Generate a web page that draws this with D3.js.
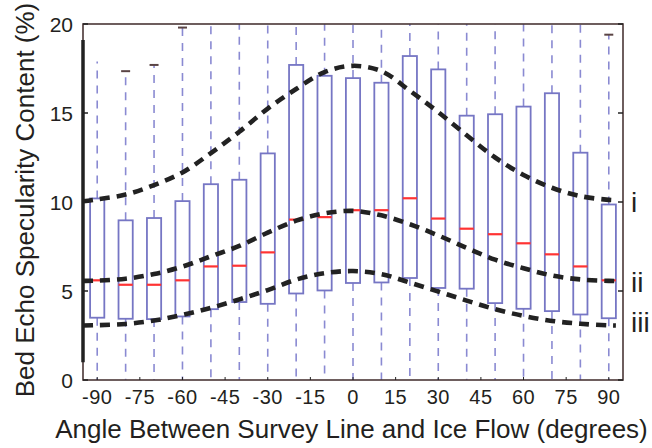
<!DOCTYPE html>
<html><head><meta charset="utf-8">
<script src="https://cdn.jsdelivr.net/npm/d3@7"></script>
<style>
body{margin:0;background:#fff}
text{font-family:"Liberation Sans",Arial,Helvetica,sans-serif;fill:#231f20}
</style>
</head><body>
<svg id="chart" width="652" height="448"></svg>
<script>
// ---- data ----
const angles = [-90,-80,-70,-60,-50,-40,-30,-20,-10,0,10,20,30,40,50,60,70,80,90];
const q1 = [3.5,3.44,3.42,3.57,3.98,4.38,4.28,4.86,5.03,5.45,5.48,5.73,5.17,5.13,4.32,4.0,3.87,3.68,3.47];
const medians = [5.6,5.35,5.35,5.6,6.38,6.42,7.17,9.01,9.15,9.54,9.54,10.21,9.07,8.5,8.19,7.68,7.06,6.38,5.6];
const q3 = [10.2,8.97,9.1,10.05,11.0,11.25,12.73,17.7,17.09,16.96,16.7,18.2,17.45,14.85,14.93,15.36,16.11,12.77,9.86];
const upperWhisker = [17.9,17.35,17.7,19.8,21,21,21,21,21,21,21,21,21,21,21,21,21,21,19.4];
const lowerWhisker = [0,0,0,0,0,0,0,0,0,0,0,0,0,0,0,0,0,0,0];
const showCap = [false,true,true,true,false,false,false,false,false,false,false,false,false,false,false,false,false,false,true];

const curveAngles = [-95,-90,-80,-70,-60,-50,-40,-30,-20,-10,0,10,20,30,40,50,60,70,80,90,92.5];
const curveI   = [10.04,10.15,10.42,10.95,11.66,12.75,13.95,15.25,16.35,17.3,17.65,17.35,16.25,15.05,13.75,12.5,11.52,10.8,10.33,10.12,10.1];
const curveII  = [5.57,5.58,5.69,5.95,6.37,6.95,7.53,8.28,8.95,9.36,9.5,9.25,8.75,8.12,7.42,6.76,6.28,5.87,5.65,5.57,5.56];
const curveIII = [3.06,3.08,3.15,3.34,3.66,4.05,4.53,5.05,5.64,6.0,6.12,5.95,5.47,4.97,4.46,3.98,3.6,3.32,3.16,3.07,3.06];
const curveLabels = ["i","ii","iii"];

const xTicks = [-90,-75,-60,-45,-30,-15,0,15,30,45,60,75,90];
const yTicks = [0,5,10,15,20];
const xTitle = "Angle Between Survey Line and Ice Flow (degrees)";
const yTitle = "Bed Echo Specularity Content (%)";

// ---- layout ----
const L = 83, R = 623, T = 24, B = 380;
const svg = d3.select("#chart");
const x = d3.scaleLinear().domain([-95, 95]).range([L, R]);
const y = d3.scaleLinear().domain([0, 20]).range([B, T]);

svg.append("defs").append("clipPath").attr("id","clip")
  .append("rect").attr("x",L).attr("y",T).attr("width",R-L).attr("height",B-T);

const plot = svg.append("g").attr("clip-path","url(#clip)");
const boxW = x(2.5) - x(0);  // half box width in px (box spans 5 degrees)

const data = angles.map((a,i)=>({a, q1:q1[i], med:medians[i], q3:q3[i], hi:upperWhisker[i], lo:lowerWhisker[i], cap:showCap[i]}));

// whiskers
const whiskColor = "#8a8ad2";
plot.selectAll("line.wu").data(data).join("line")
  .attr("x1",d=>x(d.a)).attr("x2",d=>x(d.a))
  .attr("y1",d=>y(d.q3)).attr("y2",d=>y(d.hi))
  .attr("stroke",whiskColor).attr("stroke-width",1.6).attr("stroke-dasharray","8,7");
plot.selectAll("line.wl").data(data).join("line")
  .attr("x1",d=>x(d.a)).attr("x2",d=>x(d.a))
  .attr("y1",d=>y(d.q1)).attr("y2",d=>y(d.lo))
  .attr("stroke",whiskColor).attr("stroke-width",1.6).attr("stroke-dasharray","8,7");
// caps
plot.selectAll("line.cap").data(data.filter(d=>d.cap)).join("line")
  .attr("x1",d=>x(d.a)-4.5).attr("x2",d=>x(d.a)+4.5)
  .attr("y1",d=>y(d.hi)).attr("y2",d=>y(d.hi))
  .attr("stroke","#5a4444").attr("stroke-width",2);

// boxes
plot.selectAll("rect.box").data(data).join("rect")
  .attr("x",d=>x(d.a)-boxW).attr("width",2*boxW)
  .attr("y",d=>y(d.q3)).attr("height",d=>y(d.q1)-y(d.q3))
  .attr("fill","none").attr("stroke","#7676c4").attr("stroke-width",1.8);
// medians
plot.selectAll("line.med").data(data).join("line")
  .attr("x1",d=>x(d.a)-boxW).attr("x2",d=>x(d.a)+boxW)
  .attr("y1",d=>y(d.med)).attr("y2",d=>y(d.med))
  .attr("stroke","#ff3333").attr("stroke-width",2.2);

// fitted curves
const line = d3.line().x(d=>x(d[0])).y(d=>y(d[1])).curve(d3.curveCatmullRom);
[curveI, curveII, curveIII].forEach(c=>{
  plot.append("path").datum(curveAngles.map((a,i)=>[a,c[i]]))
    .attr("d",line).attr("fill","none")
    .attr("stroke","#222222").attr("stroke-width",4.6)
    .attr("stroke-dasharray","10,7");
});

// frame
const frameColor = "#4a3636";
svg.append("rect").attr("x",L).attr("y",T).attr("width",R-L).attr("height",B-T)
  .attr("fill","none").attr("stroke",frameColor).attr("stroke-width",1.6);
svg.append("line").attr("x1",L).attr("x2",L).attr("y1",y(19.1)).attr("y2",y(1.0))
  .attr("stroke","#222").attr("stroke-width",3.5);

// y axis ticks + labels
yTicks.forEach(v=>{
  svg.append("line").attr("x1",L).attr("x2",L+5).attr("y1",y(v)).attr("y2",y(v)).attr("stroke","#222").attr("stroke-width",1.5);
  svg.append("line").attr("x1",R-5).attr("x2",R).attr("y1",y(v)).attr("y2",y(v)).attr("stroke","#222").attr("stroke-width",1.5);
  svg.append("text").attr("x",L-10).attr("y",y(v)).attr("dy","0.36em")
    .attr("text-anchor","end").attr("font-size",21).text(v);
});
// x axis ticks + labels
xTicks.forEach(v=>{
  svg.append("line").attr("x1",x(v)).attr("x2",x(v)).attr("y1",B).attr("y2",B-3).attr("stroke","#222").attr("stroke-width",1);
  svg.append("text").attr("x",x(v)).attr("y",404)
    .attr("text-anchor","middle").attr("font-size",20).attr("letter-spacing","0.5px").text(v);
});

// titles
svg.append("text").attr("x",351.5).attr("y",438).attr("text-anchor","middle")
  .attr("font-size",26).text(xTitle);
svg.append("text").attr("transform",`translate(34,200) rotate(-90)`)
  .attr("text-anchor","middle").attr("font-size",26).text(yTitle);

// curve labels
const labelY = [212, 292, 332];
curveLabels.forEach((t,i)=>{
  svg.append("text").attr("x",631).attr("y",labelY[i]).attr("font-size",28).text(t);
});
</script>
</body></html>
